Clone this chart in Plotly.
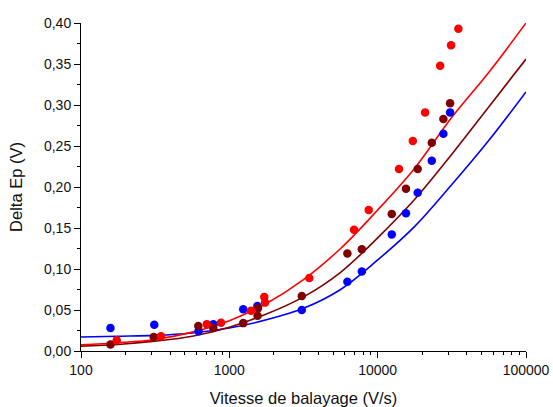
import plotly.graph_objects as go

# ---- data ----
red_x = [174, 346, 705, 879, 1400, 1720, 1740, 3460, 6930, 8700, 13930, 17260, 20890, 26380, 31260, 35000]
red_y = [0.013, 0.018, 0.0325, 0.0345, 0.049, 0.066, 0.059, 0.089, 0.148, 0.172, 0.222, 0.256, 0.291, 0.348, 0.373, 0.393]

maroon_x = [158, 309, 618, 780, 1241, 1550, 1560, 3080, 6250, 7820, 12450, 15520, 18620, 23170, 27740, 30770]
maroon_y = [0.008, 0.017, 0.0305, 0.028, 0.034, 0.043, 0.052, 0.067, 0.119, 0.124, 0.167, 0.198, 0.222, 0.254, 0.283, 0.302]

blue_x = [158, 312, 620, 780, 1241, 1545, 3080, 6250, 7820, 12450, 15520, 18620, 23170, 27740, 30770]
blue_y = [0.028, 0.032, 0.024, 0.0325, 0.051, 0.055, 0.050, 0.0845, 0.097, 0.142, 0.168, 0.193, 0.232, 0.265, 0.291]

fit_x = [100, 178, 316, 562, 1000, 1778, 3162, 5623, 10000, 17783, 31623, 56234, 100000]
red_fit = [0.0075, 0.010, 0.014, 0.023, 0.037, 0.058, 0.087, 0.125, 0.172, 0.223, 0.285, 0.340, 0.400]
maroon_fit = [0.006, 0.008, 0.012, 0.018, 0.029, 0.045, 0.066, 0.096, 0.138, 0.185, 0.240, 0.298, 0.356]
blue_fit = [0.017, 0.018, 0.019, 0.022, 0.028, 0.038, 0.052, 0.075, 0.111, 0.152, 0.203, 0.257, 0.316]

y_ticks = [0.00, 0.05, 0.10, 0.15, 0.20, 0.25, 0.30, 0.35, 0.40]
x_ticks = [100, 1000, 10000, 100000]

RED = "#FF0000"
MAROON = "#800000"
BLUE = "#0000FF"

fig = go.Figure()
for fy, c in [(blue_fit, BLUE), (maroon_fit, MAROON), (red_fit, RED)]:
    fig.add_trace(go.Scatter(x=fit_x, y=fy, mode="lines", line=dict(color=c, width=1.6, shape="spline"),
                             showlegend=False, hoverinfo="skip"))
for xs, ys, c in [(blue_x, blue_y, BLUE), (maroon_x, maroon_y, MAROON), (red_x, red_y, RED)]:
    fig.add_trace(go.Scatter(x=xs, y=ys, mode="markers", marker=dict(color=c, size=8.5, line=dict(width=0)),
                             showlegend=False))

font = "Liberation Sans, Arial, sans-serif"
fig.update_layout(
    width=553, height=407,
    margin=dict(l=81, r=27, t=23, b=56, autoexpand=False),
    paper_bgcolor="white", plot_bgcolor="white",
    separators=", ",
    font=dict(family=font, color="#111111"),
)
fig.update_xaxes(
    type="log", range=[2, 5], tickvals=x_ticks, ticktext=[str(v) for v in x_ticks],
    showline=True, linecolor="#000000", linewidth=1, showgrid=False, zeroline=False, automargin=False,
    ticks="outside", ticklen=6, tickcolor="#000000", tickfont=dict(size=14, family=font),
    minor=dict(ticks="outside", ticklen=3, tickcolor="#000000", showgrid=False, dtick="D1"),
    title=dict(text="Vitesse de balayage (V/s)", font=dict(size=16.5, family=font), standoff=21),
)
fig.update_yaxes(
    range=[0, 0.40], tickvals=y_ticks, tickformat=".2f",
    showline=True, linecolor="#000000", linewidth=1, showgrid=False, zeroline=False, automargin=False,
    ticks="outside", ticklen=6, tickcolor="#000000", tickfont=dict(size=14, family=font),
    minor=dict(ticks="outside", ticklen=3, tickcolor="#000000", showgrid=False, dtick=0.025),
    title=dict(text="Delta Ep (V)", font=dict(size=16.5, family=font), standoff=17),
)
fig.write_html("out.html", config={"displayModeBar": False},
               post_script="document.body.style.margin='0';document.body.style.overflow='hidden';")
